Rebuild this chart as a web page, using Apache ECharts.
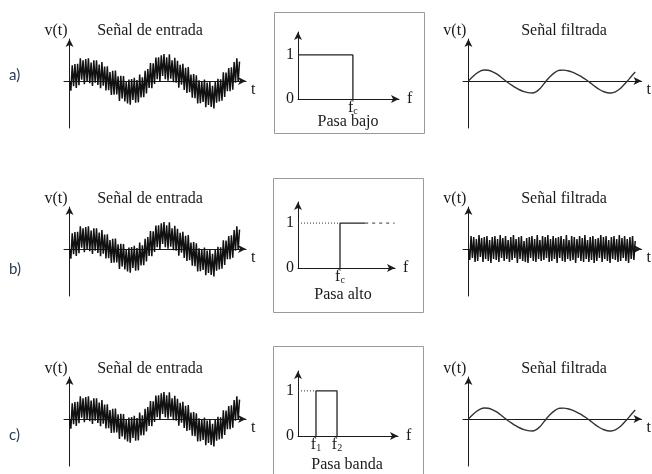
<!DOCTYPE html>
<html>
<head>
<meta charset="utf-8">
<script src="https://cdn.jsdelivr.net/npm/echarts@6/dist/echarts.min.js"></script>
<style>
html, body { margin: 0; padding: 0; background: #fff; }
#main { width: 652px; height: 474px; }
</style>
</head>
<body>
<div id="main"></div>
<script>
"use strict";

/*----- data -----*/
var rowLabels = ['a)', 'b)', 'c)'];
var filterNames = ['Pasa bajo', 'Pasa alto', 'Pasa banda'];
var inputTitle = 'Señal de entrada';
var outputTitle = 'Señal filtrada';

// slow part of the input signal, one value per sample
var slowPart = [
	0, .13, .26, .38, .5, .61, .71, .79, .87, .92, .97, .99, 1,
	.99, .98, .97, .94, .91, .87, .82, .77, .71, .64, .57, .5, .42, .34, .26, .17, .09, 0,
	-.09, -.18, -.27, -.36, -.45, -.53, -.6, -.67, -.74, -.8, -.85, -.9, -.94, -.96, -.98, -1, -1,
	-.99, -.96, -.91, -.84, -.75, -.65, -.54, -.42, -.28, -.14, 0,
	.2, .39, .58, .76, .91, 1.05, 1.17, 1.27, 1.34, 1.38, 1.4,
	1.4, 1.39, 1.36, 1.33, 1.28, 1.23, 1.16, 1.09, 1.01, .92, .83, .73, .63, .52, .41, .31, .21, .1, 0,
	-.13, -.26, -.38, -.5, -.62, -.74, -.84, -.94, -1.03, -1.12, -1.2, -1.26, -1.32, -1.36, -1.39, -1.4, -1.4,
	-1.38, -1.34, -1.27, -1.18, -1.07, -.95, -.82, -.68, -.54, -.39, -.25, -.12, 0,
	.18, .36, .53, .69, .83, .96, 1.06, 1.14
];

// fast ripple riding on it (this is what the high pass lets through)
var ripple = [
	0, -1.1, 1.3, -0.9, 1.2, -1.3, 1.0, -1.2, 1.4, -0.8, 1.1, -1.3, 1.2, -1.0, 1.3, -1.2,
	0.9, -1.4, 1.2, -1.0, 1.3, -1.1, 1.0, -1.3, 1.4, -0.9, 1.1, -1.2, 1.3, -1.0, 0.9, -1.3,
	1.2, -1.1, 1.4, -0.9, 1.0, -1.4, 1.2, -1.0, 1.3, -1.2, 0.8, -1.3, 1.1, -1.4, 1.2, -0.9,
	1.3, -1.2, 1.0, -1.3, 1.4, -1.0, 0.9, -1.2, 1.3, -1.1, 1.2, -0.9, 1.4, -1.3, 1.0, -1.2,
	1.3, -1.0, 1.1, -1.4, 1.2, -0.9, 1.3, -1.2, 1.0, -1.3, 1.4, -1.0, 0.9, -1.2, 1.3, -1.1,
	1.2, -1.4, 1.0, -0.9, 1.3, -1.2, 1.1, -1.3, 1.4, -1.0, 0.9, -1.3, 1.2, -1.1, 1.3, -1.4,
	1.0, -1.2, 1.1, -0.9, 1.4, -1.3, 1.2, -1.0, 1.3, -1.2, 0.9, -1.4, 1.2, -1.0, 1.3, -1.1,
	1.0, -1.3, 1.4, -1.2, 1.1, -0.9, 1.3, -1.2, 1.0, -1.4, 1.2, -1.0, 1.3, -1.1, 0.8
];

// low pass output, read every 3 samples
var lowpassStep = 3;
var lowpassOut = [
	0, .40, .75, .99, 1.10, 1.07, .94, .73, .45, .13,
	-.17, -.44, -.69, -.90, -1.06, -1.16, -1.2, -1.09, -.77, -.29,
	.20, .61, .92, 1.08, 1.09, 1.03, .91, .74, .53, .29, .03,
	-.28, -.59, -.85, -1.05, -1.17, -1.2, -1.09, -.83, -.45, -.01,
	.45, .9
];

// filter responses (f, gain)
var lowpassResp = [[0, 1], [1, 1], [1, 0]];
var highpassDotted = [[0, 1], [1, 1]];
var highpassSolid = [[1, 0], [1, 1], [1.6, 1]];
var highpassDashed = [[1.6, 1], [2.3, 1]];
var bandDotted = [[0, 1], [1, 1]];
var bandSolid = [[1, 0], [1, 1], [2.17, 1], [2.17, 0]];
var gainTicks = [0, 1];
var freqTicks = [[1], [1], [1, 2.17]];
var freqSubs = [['c'], ['c'], ['1', '2']];

/*----- layout -----*/
var serif = "'Liberation Serif', 'DejaVu Serif', serif";
var ink = '#1a1a1a';
var fs = 16;
var rowAxisY = [81, 249, 419];
var inLeft = 64, outLeft = 463;
var boxes = [
	{ frame: [274, 12, 150, 121], top: 32, h: 67, w: 101, ymax: 1.52, xmax: 1.84, label: [348, 122] },
	{ frame: [273, 178, 150, 134], top: 202, h: 66, w: 97, ymax: 1.47, xmax: 2.31, label: [343, 295] },
	{ frame: [273, 346, 150, 134], top: 371, h: 65, w: 100, ymax: 1.44, xmax: 5.56, label: [347, 465] }
];

var grids = [], xAxes = [], yAxes = [], series = [], graphics = [];

function arrowLine() {
	return {
		onZero: true,
		symbol: ['none', 'arrow'],
		symbolSize: [6, 8],
		lineStyle: { color: ink, width: 1 }
	};
}

function wavePanel(left, axisY) {
	var gi = grids.length;
	grids.push({ left: left, top: axisY - 42, width: 182, height: 89 });
	xAxes.push({
		gridIndex: gi, type: 'value', min: -4.1, max: 130.8,
		axisLine: arrowLine(), axisTick: { show: false }, axisLabel: { show: false }, splitLine: { show: false },
		name: 't', nameLocation: 'end', nameGap: 5,
		nameTextStyle: { fontFamily: serif, fontSize: fs, color: ink, verticalAlign: 'top', padding: [1, 0, 0, 0] }
	});
	yAxes.push({
		gridIndex: gi, type: 'value', min: -4.7, max: 4.2,
		axisLine: arrowLine(), axisTick: { show: false }, axisLabel: { show: false }, splitLine: { show: false },
		name: 'v(t)', nameLocation: 'end', nameGap: 8,
		nameTextStyle: { fontFamily: serif, fontSize: fs, color: ink, align: 'right', verticalAlign: 'middle', padding: [0, 2, 0, 0] }
	});
	return gi;
}

function boxPanel(k) {
	var b = boxes[k];
	var gi = grids.length;
	grids.push({ left: 298, top: b.top, width: b.w, height: b.h });
	xAxes.push({
		gridIndex: gi, type: 'value', min: 0, max: b.xmax,
		axisLine: arrowLine(), axisTick: { show: false }, splitLine: { show: false },
		axisLabel: {
			customValues: freqTicks[k], margin: 1,
			formatter: function (v) {
				var idx = freqTicks[k].indexOf(v);
				return '{f|f}{s|' + freqSubs[k][idx < 0 ? 0 : idx] + '}';
			},
			rich: {
				f: { fontFamily: serif, fontSize: fs, lineHeight: 16, color: ink, verticalAlign: 'bottom' },
				s: { fontFamily: serif, fontSize: 10, lineHeight: 10, color: ink, verticalAlign: 'bottom' }
			}
		},
		name: 'f', nameLocation: 'end', nameGap: 8,
		nameTextStyle: { fontFamily: serif, fontSize: fs, color: ink }
	});
	yAxes.push({
		gridIndex: gi, type: 'value', min: 0, max: b.ymax,
		axisLine: arrowLine(), axisTick: { show: false }, splitLine: { show: false },
		axisLabel: { customValues: gainTicks, margin: 4, fontFamily: serif, fontSize: fs, color: ink }
	});
	graphics.push({
		type: 'rect', silent: true, z: -1,
		shape: { x: b.frame[0] + 0.5, y: b.frame[1] + 0.5, width: b.frame[2], height: b.frame[3] },
		style: { fill: '#fff', stroke: '#9a9a9a', lineWidth: 1 }
	});
	graphics.push({
		type: 'text', x: b.label[0], y: b.label[1],
		style: { text: filterNames[k], align: 'center', verticalAlign: 'middle', fontFamily: serif, fontSize: fs, fill: ink }
	});
	return gi;
}

function addLine(gi, data, extra) {
	var s = {
		type: 'line', xAxisIndex: gi, yAxisIndex: gi, data: data,
		showSymbol: false, symbol: 'none', silent: true, animation: false,
		lineStyle: { color: '#111', width: 1.5 }
	};
	for (var key in extra) s[key] = extra[key];
	return series.push(s);
}

var inputData = slowPart.map(function (v, i) { return [i, v + ripple[i]]; });
var highpassData = ripple.map(function (v, i) { return [i, v]; });
var lowpassData = lowpassOut.map(function (v, i) { return [i * lowpassStep, v]; });

for (var r = 0; r < 3; r++) {
	var ay = rowAxisY[r];
	var gIn = wavePanel(inLeft, ay);
	addLine(gIn, inputData, {});
	var gBox = boxPanel(r);
	var gOut = wavePanel(outLeft, ay);
	if (r === 1) {
		addLine(gBox, highpassDotted, { lineStyle: { color: '#333', width: 1, type: [1, 2] } });
		addLine(gBox, highpassSolid, { lineStyle: { color: '#222', width: 1.3 } });
		addLine(gBox, highpassDashed, { lineStyle: { color: '#333', width: 1, type: [3, 4] } });
		addLine(gOut, highpassData, {});
	} else {
		if (r === 0) {
			addLine(gBox, lowpassResp, { lineStyle: { color: '#222', width: 1.3 } });
		} else {
			addLine(gBox, bandDotted, { lineStyle: { color: '#333', width: 1, type: [1, 2] } });
			addLine(gBox, bandSolid, { lineStyle: { color: '#222', width: 1.3 } });
		}
		addLine(gOut, lowpassData, { smooth: 0.4, lineStyle: { color: '#333', width: 1.4 } });
	}
	var ty = ay - 50;
	graphics.push({ type: 'text', x: 150, y: ty, style: { text: inputTitle, align: 'center', verticalAlign: 'middle', fontFamily: serif, fontSize: fs, fill: ink } });
	graphics.push({ type: 'text', x: 564, y: ty, style: { text: outputTitle, align: 'center', verticalAlign: 'middle', fontFamily: serif, fontSize: fs, fill: ink } });
}

var labelY = [75, 269, 435];
rowLabels.forEach(function (t, i) {
	graphics.push({ type: 'text', x: 9, y: labelY[i], style: { text: t, verticalAlign: 'middle', fontFamily: 'Lato, sans-serif', fontSize: 15, fill: '#2c3a55' } });
});

var chart = echarts.init(document.getElementById('main'));
chart.setOption({
	backgroundColor: '#fff',
	animation: false,
	grid: grids,
	xAxis: xAxes,
	yAxis: yAxes,
	series: series,
	graphic: graphics
});
</script>
</body>
</html>
